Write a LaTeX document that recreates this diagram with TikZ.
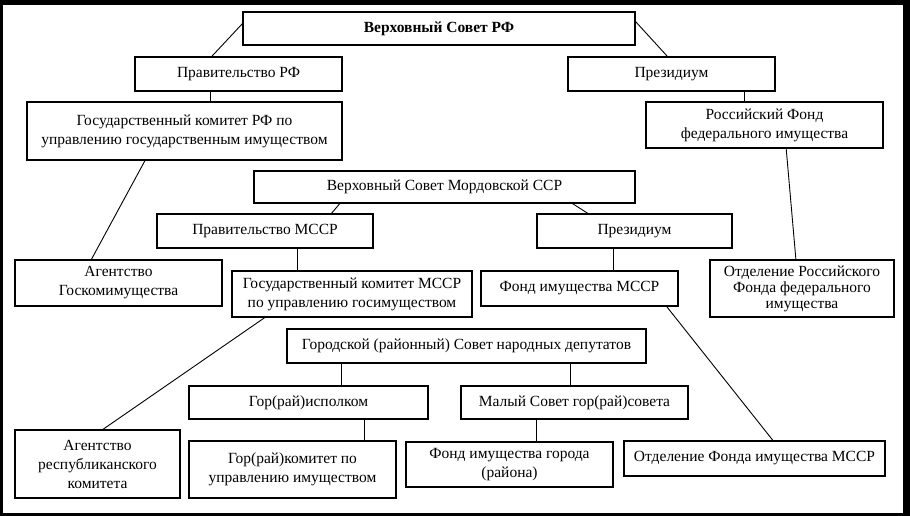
\documentclass[tikz,border=0pt]{standalone}
\usepackage{fontspec}
\setmainfont{Liberation Serif}
\usetikzlibrary{calc}
\begin{document}
\begin{tikzpicture}[x=1pt,y=-1pt,
  box/.style={draw=black,line width=1.3pt,fill=white,inner sep=0pt,align=center,
    font=\fontsize{15.5}{19}\selectfont},
  conn/.style={draw=black,line width=0.9pt}]
\useasboundingbox (0,0) rectangle (910,516);
\fill[black] (0,0) rectangle (910,516);
\fill[white] (3,5) rectangle (903,513);

\node[box,minimum width=392,minimum height=33,font=\fontsize{15.5}{19}\selectfont\bfseries] (vsrf) at (439,28.5) {Верховный Совет РФ};
\node[box,minimum width=207,minimum height=34] (prf) at (238.5,74) {Правительство РФ};
\node[box,minimum width=207,minimum height=34] (prez) at (671.5,74) {Президиум};
\node[box,minimum width=315,minimum height=58] (gkrf) at (184.5,131) {Государственный комитет РФ по\\управлению государственным имуществом};
\node[box,minimum width=237,minimum height=46] (rffi) at (764.5,125) {Российский Фонд\\федерального имущества};
\node[box,minimum width=381,minimum height=32] (vsm) at (444.5,187) {Верховный Совет Мордовской ССР};
\node[box,minimum width=216,minimum height=34] (pm) at (265,231) {Правительство МССР};
\node[box,minimum width=195,minimum height=34] (prezm) at (634.5,231) {Президиум};
\node[box,minimum width=207,minimum height=46] (agk) at (118.5,283) {Агентство\\Госкомимущества};
\node[box,minimum width=240,minimum height=46] (gkm) at (352,294) {Государственный комитет МССР\\по управлению госимуществом};
\node[box,minimum width=197,minimum height=35] (fim) at (579.5,288.5) {Фонд имущества МССР};
\node[box,minimum width=184,minimum height=57,font=\fontsize{15.5}{16}\selectfont] (orffi) at (802,288.5) {Отделение Российского\\Фонда федерального\\имущества};
\node[box,minimum width=359,minimum height=34] (gs) at (466.5,346) {Городской (районный) Совет народных депутатов};
\node[box,minimum width=239,minimum height=33] (gri) at (308.5,402.5) {Гор(рай)исполком};
\node[box,minimum width=227,minimum height=33] (ms) at (574.5,402.5) {Малый Совет гор(рай)совета};
\node[box,minimum width=165,minimum height=68] (ark) at (97.5,464) {Агентство\\республиканского\\комитета};
\node[box,minimum width=207,minimum height=57] (grk) at (292.5,469.5) {Гор(рай)комитет по\\управлению имуществом};
\node[box,minimum width=207,minimum height=45] (fig) at (509.5,464.5) {Фонд имущества города\\(района)};
\node[box,minimum width=261,minimum height=35] (ofim) at (754.5,458.5) {Отделение Фонда имущества МССР};

% connectors
\draw[conn] ($(vsrf.north west)!0.36!(vsrf.south west)$) -- ($(prf.north west)!0.372!(prf.north east)$);
\draw[conn] ($(vsrf.north east)!0.3!(vsrf.south east)$) -- ($(prez.north west)!0.48!(prez.north east)$);
\coordinate (c1) at ($(prf.south west)!0.367!(prf.south east)$);
\draw[conn] (c1) -- (c1 |- gkrf.north);
\coordinate (c2) at ($(prez.south west)!0.851!(prez.south east)$);
\draw[conn] (c2) -- (c2 |- rffi.north);
\draw[conn] ($(gkrf.south west)!0.375!(gkrf.south east)$) -- ($(agk.north west)!0.37!(agk.north east)$);
\draw[conn] ($(rffi.south west)!0.591!(rffi.south east)$) -- ($(orffi.north west)!0.467!(orffi.north east)$);
\draw[conn] ($(vsm.south west)!0.226!(vsm.south east)$) -- ($(pm.north west)!0.806!(pm.north east)$);
\draw[conn] ($(vsm.south west)!0.835!(vsm.south east)$) -- ($(prezm.north west)!0.262!(prezm.north east)$);
\coordinate (c3) at ($(pm.south west)!0.648!(pm.south east)$);
\draw[conn] (c3) -- (c3 |- gkm.north);
\coordinate (c4) at ($(prezm.south west)!0.391!(prezm.south east)$);
\draw[conn] (c4) -- (c4 |- fim.north);
\draw[conn] ($(gkm.south west)!0.138!(gkm.south east)$) -- ($(ark.north west)!0.533!(ark.north east)$);
\draw[conn] ($(fim.south west)!0.94!(fim.south east)$) -- ($(ofim.north west)!0.57!(ofim.north east)$);
\coordinate (c5) at ($(gs.south west)!0.153!(gs.south east)$);
\draw[conn] (c5) -- (c5 |- gri.north);
\coordinate (c6) at ($(gs.south west)!0.788!(gs.south east)$);
\draw[conn] (c6) -- (c6 |- ms.north);
\coordinate (c7) at ($(gri.south west)!0.732!(gri.south east)$);
\draw[conn] (c7) -- (c7 |- grk.north);
\coordinate (c8) at ($(ms.south west)!0.335!(ms.south east)$);
\draw[conn] (c8) -- (c8 |- fig.north);
\end{tikzpicture}
\end{document}
